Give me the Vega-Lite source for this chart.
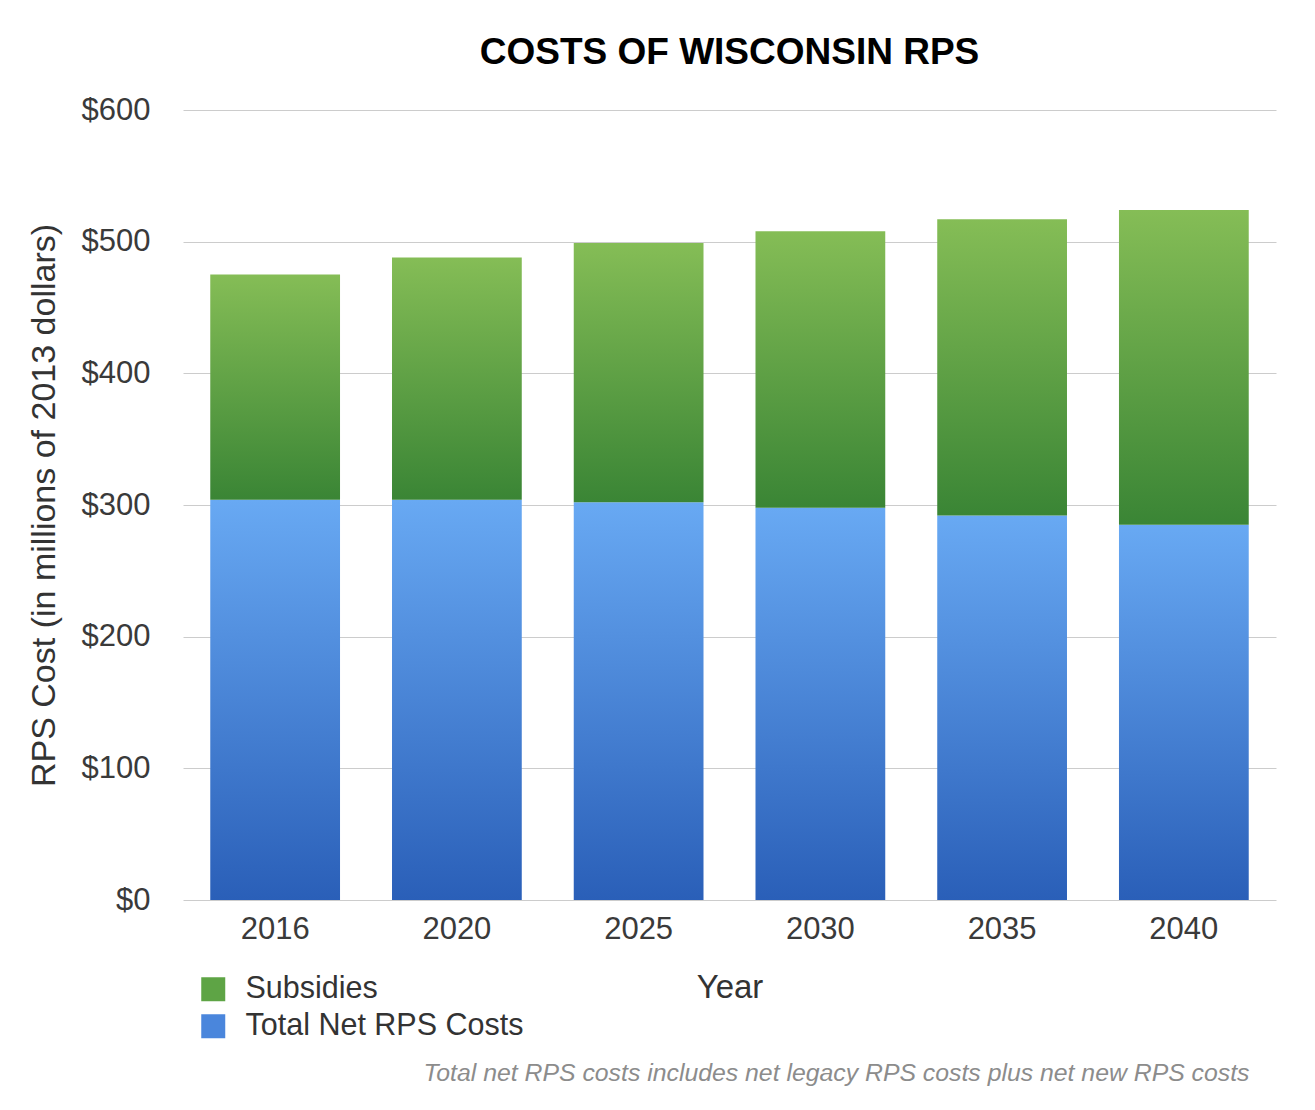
{
  "$schema": "https://vega.github.io/schema/vega-lite/v6.json",
  "width": 1093,
  "height": 790,
  "autosize": "none",
  "padding": {"left": 183, "top": 110, "right": 39, "bottom": 210},
  "background": "white",
  "config": {
    "font": "Liberation Sans",
    "view": {"stroke": null}
  },
  "title": {
    "text": "COSTS OF WISCONSIN RPS",
    "fontSize": 37,
    "fontWeight": "bold",
    "color": "#000000",
    "anchor": "middle",
    "frame": "group",
    "baseline": "alphabetic",
    "offset": -7
  },
  "resolve": {"scale": {"x": "independent"}},
  "layer": [
    {
      "data": {
        "values": [
          {"year": "2016", "series": "Total Net RPS Costs", "value": 304},
          {"year": "2016", "series": "Subsidies", "value": 171},
          {"year": "2020", "series": "Total Net RPS Costs", "value": 304},
          {"year": "2020", "series": "Subsidies", "value": 184},
          {"year": "2025", "series": "Total Net RPS Costs", "value": 302},
          {"year": "2025", "series": "Subsidies", "value": 197},
          {"year": "2030", "series": "Total Net RPS Costs", "value": 298},
          {"year": "2030", "series": "Subsidies", "value": 210},
          {"year": "2035", "series": "Total Net RPS Costs", "value": 292},
          {"year": "2035", "series": "Subsidies", "value": 225},
          {"year": "2040", "series": "Total Net RPS Costs", "value": 285},
          {"year": "2040", "series": "Subsidies", "value": 239}
        ]
      },
      "transform": [
        {"stack": "value", "groupby": ["year"], "sort": [{"field": "series", "order": "descending"}], "as": ["v0", "v1"]}
      ],
      "encoding": {
        "x": {
          "field": "year",
          "type": "ordinal",
          "scale": {"paddingInner": 0.286, "paddingOuter": 0.15},
          "axis": {
            "title": "Year",
            "labelAngle": 0,
            "domain": false,
            "ticks": false,
            "grid": false,
            "labelFontSize": 31,
            "labelColor": "#3a3a3a",
            "labelPadding": 14,
            "titleFontSize": 33,
            "titleFontWeight": "normal",
            "titleColor": "#333333",
            "titlePadding": 27
          }
        },
        "y": {
          "field": "v1",
          "type": "quantitative",
          "scale": {"domain": [0, 600]},
          "axis": {
            "title": "RPS Cost (in millions of 2013 dollars)",
            "values": [0, 100, 200, 300, 400, 500, 600],
            "labelExpr": "'$' + datum.value",
            "domain": false,
            "ticks": false,
            "gridColor": "#cccccc",
            "gridWidth": 1,
            "labelFontSize": 31,
            "labelColor": "#3a3a3a",
            "labelPadding": 33,
            "titleFontSize": 34,
            "titleFontWeight": "normal",
            "titleColor": "#333333",
            "titlePadding": 20
          }
        },
        "y2": {"field": "v0"}
      },
      "layer": [
        {
          "transform": [{"filter": "datum.series === 'Total Net RPS Costs'"}],
          "mark": {
            "type": "bar",
            "fill": {"gradient": "linear", "x1": 0, "y1": 0, "x2": 0, "y2": 1, "stops": [{"offset": 0, "color": "#68a9f3"}, {"offset": 1, "color": "#2a5fb8"}]}
          }
        },
        {
          "transform": [{"filter": "datum.series === 'Subsidies'"}],
          "mark": {
            "type": "bar",
            "fill": {"gradient": "linear", "x1": 0, "y1": 0, "x2": 0, "y2": 1, "stops": [{"offset": 0, "color": "#85bd56"}, {"offset": 1, "color": "#3a8535"}]}
          }
        },
        {
          "mark": {"type": "bar", "opacity": 0},
          "encoding": {
            "color": {
              "field": "series",
              "type": "nominal",
              "scale": {"domain": ["Subsidies", "Total Net RPS Costs"], "range": ["#5ea445", "#4a86dc"]},
              "legend": {
                "title": null,
                "orient": "none",
                "legendX": 15,
                "legendY": 864,
                "symbolType": "square",
                "symbolSize": 576,
                "symbolOpacity": 1,
                "symbolStrokeWidth": 0,
                "labelFontSize": 30.5,
                "labelColor": "#333333",
                "labelOffset": 17,
                "rowPadding": 6,
                "labelLimit": 500,
                "encode": {
                  "symbols": {
                    "update": {
                      "fill": {"signal": "datum.value === 'Subsidies' ? {gradient: 'linear', x1: 0, y1: 0, x2: 0, y2: 1, stops: [{offset: 0, color: '#85bd56'}, {offset: 1, color: '#3a8535'}]} : {gradient: 'linear', x1: 0, y1: 0, x2: 0, y2: 1, stops: [{offset: 0, color: '#68a9f3'}, {offset: 1, color: '#2a5fb8'}]}"},
                      "opacity": {"value": 1}
                    }
                  }
                }
              }
            }
          }
        }
      ]
    },
    {
      "data": {"values": [{"note": "n"}]},
      "mark": {"type": "text", "text": ""},
      "encoding": {
        "x": {
          "field": "note",
          "type": "nominal",
          "axis": {
            "orient": "bottom",
            "title": "Total net RPS costs includes net legacy RPS costs plus net new RPS costs",
            "labels": false,
            "ticks": false,
            "domain": false,
            "grid": false,
            "titleFontSize": 24.8,
            "titleFontStyle": "italic",
            "titleFontWeight": "normal",
            "titleColor": "#8c8c8c",
            "titleX": 1066,
            "titleY": 173,
            "titleAlign": "right",
            "titleBaseline": "middle",
            "titleAnchor": null
          }
        }
      }
    }
  ]
}
